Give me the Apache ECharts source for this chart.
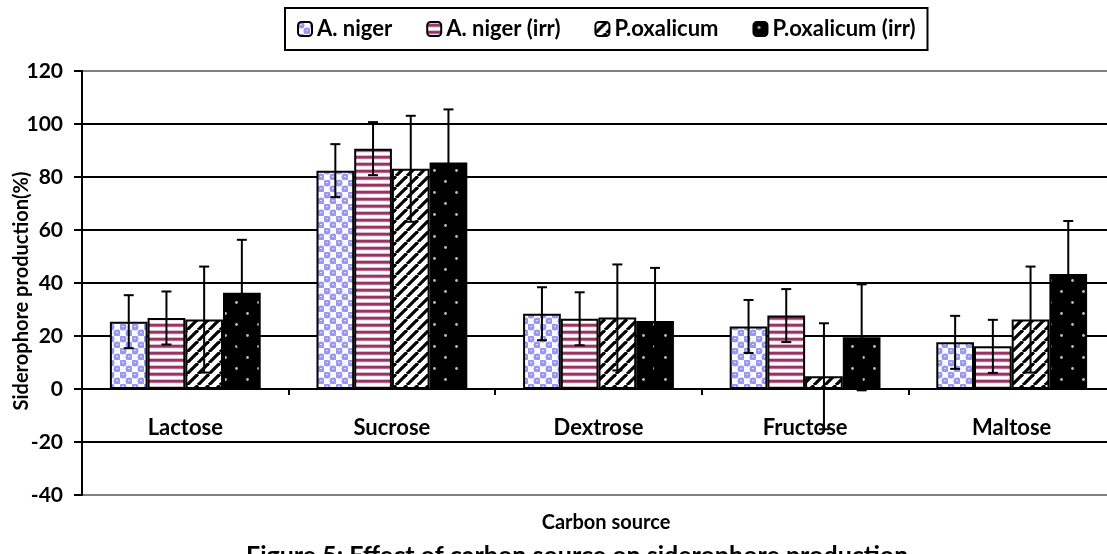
<!DOCTYPE html>
<html>
<head>
<meta charset="utf-8">
<script src="https://cdn.jsdelivr.net/npm/echarts@6/dist/echarts.min.js"></script>
<style>
  html, body { margin: 0; padding: 0; background: #fff; }
  #chart { width: 1107px; height: 554px; }
</style>
</head>
<body>
<div id="chart"></div>
<script>
  // values
  const categories = ['Lactose', 'Sucrose', 'Dextrose', 'Fructose', 'Maltose'];
  const seriesNames = ['A. niger', 'A. niger (irr)', 'P.oxalicum', 'P.oxalicum (irr)'];
  const aniger = [25.4, 82.4, 28.4, 23.6, 17.6];
  const anigerIrr = [26.8, 90.7, 26.5, 27.7, 16.1];
  const poxalicum = [26.2, 83.1, 27.0, 4.8, 26.2];
  const poxalicumIrr = [36.3, 85.5, 25.7, 19.5, 43.4];
  const anigerErr = [10, 10, 10, 10, 10];
  const anigerIrrErr = [10, 10, 10, 10, 10];
  const poxalicumErr = [20, 20, 20, 20, 20];
  const poxalicumIrrErr = [20, 20, 20, 20, 20];
  const yTicks = { min: -40, max: 120, interval: 20 };

  const FONT = 'Lato';
  const GAP = 0.27;
  const GRID = { left: 82, top: 71, width: 1033, height: 424 };

  function tile(w, h, draw) {
    let c = document.createElement('canvas');
    c.width = w;
    c.height = h;
    draw(c.getContext('2d'));
    return { image: c, repeat: 'repeat' };
  }

  // blue "bubbles" pattern
  const bluePattern = tile(12, 12, (ctx) => {
    ctx.fillStyle = '#ffffff';
    ctx.fillRect(0, 0, 12, 12);
    ctx.fillStyle = '#c4c4fb';
    ctx.fillRect(0, 0, 6, 6);
    ctx.fillRect(6, 6, 6, 6);
    ctx.fillStyle = '#9999f5';
    [[3, 3], [9, 9]].forEach(p => {
      ctx.beginPath();
      ctx.arc(p[0], p[1], 3.5, 0, Math.PI * 2);
      ctx.fill();
    });
    ctx.fillStyle = '#dcdcfd';
    ctx.fillRect(2, 2, 2, 1);
    ctx.fillRect(8, 8, 2, 1);
  });

  // maroon horizontal stripes
  const stripePattern = tile(4, 7, (ctx) => {
    const rows = ['#ffffff', '#dcb8c8', '#993366', '#993366', '#b56d8d', '#f3e6ec', '#ffffff'];
    rows.forEach((c, i) => {
      ctx.fillStyle = c;
      ctx.fillRect(0, i, 4, 1);
    });
  });

  // black diagonal lines
  const diagPattern = tile(11, 11, (ctx) => {
    ctx.fillStyle = '#ffffff';
    ctx.fillRect(0, 0, 11, 11);
    ctx.strokeStyle = '#000000';
    ctx.lineWidth = 3.2;
    [-11, 0, 11].forEach(o => {
      ctx.beginPath();
      ctx.moveTo(o, 11);
      ctx.lineTo(o + 11, 0);
      ctx.stroke();
    });
  });

  // black with small dots
  const dotPattern = tile(22, 22, (ctx) => {
    ctx.fillStyle = '#000000';
    ctx.fillRect(0, 0, 22, 22);
    ctx.fillStyle = '#bdbdbd';
    [[5.5, 5.5], [16.5, 16.5]].forEach(p => {
      ctx.beginPath();
      ctx.arc(p[0], p[1], 1.4, 0, Math.PI * 2);
      ctx.fill();
    });
  });

  const patterns = [bluePattern, stripePattern, diagPattern, dotPattern];
  const values = [aniger, anigerIrr, poxalicum, poxalicumIrr];
  const errors = [anigerErr, anigerIrrErr, poxalicumErr, poxalicumIrrErr];

  function errorRender(idx) {
    return function (params, api) {
      let cat = api.value(0);
      let lo = api.coord([cat, api.value(1)]);
      let hi = api.coord([cat, api.value(2)]);
      let band = api.size([1, 0])[0];
      let bw = band * (1 - GAP) / 4;
      let x = hi[0] + (idx - 1.5) * bw;
      let cap = 5;
      let st = { stroke: '#000', lineWidth: 2 };
      return {
        type: 'group',
        children: [
          { type: 'line', shape: { x1: x, y1: lo[1], x2: x, y2: hi[1] }, style: st },
          { type: 'line', shape: { x1: x - cap, y1: hi[1], x2: x + cap, y2: hi[1] }, style: st },
          { type: 'line', shape: { x1: x - cap, y1: lo[1], x2: x + cap, y2: lo[1] }, style: st }
        ]
      };
    };
  }

  let series = [];
  seriesNames.forEach((name, i) => {
    series.push({
      name: name,
      type: 'bar',
      data: values[i],
      barCategoryGap: (GAP * 100) + '%',
      barGap: '0%',
      itemStyle: { color: patterns[i], borderColor: '#000', borderWidth: 2 }
    });
  });
  seriesNames.forEach((name, i) => {
    series.push({
      type: 'custom',
      renderItem: errorRender(i),
      data: values[i].map((v, k) => [k, v - errors[i][k], v + errors[i][k]]),
      encode: { x: 0, y: [1, 2] },
      z: 10,
      silent: true
    });
  });

  // move the category axis up to the zero line
  const zeroOffset = -GRID.height * (0 - yTicks.min) / (yTicks.max - yTicks.min);

  let chart = echarts.init(document.getElementById('chart'));
  chart.setOption({
    animation: false,
    backgroundColor: '#fff',
    legend: {
      data: seriesNames,
      left: 285,
      top: 8,
      padding: [10, 12],
      itemGap: 34,
      itemWidth: 14,
      itemHeight: 14,
      borderColor: '#000',
      borderWidth: 2,
      textStyle: { fontFamily: FONT, fontWeight: 'bold', fontSize: 22, color: '#000' }
    },
    grid: Object.assign({ outerBoundsMode: 'none', containLabel: false }, GRID),
    xAxis: {
      type: 'category',
      data: categories,
      offset: zeroOffset,
      axisLine: { onZero: false, lineStyle: { color: '#000', width: 2 } },
      axisTick: { show: true, length: 6, lineStyle: { color: '#000', width: 2 } },
      axisLabel: { margin: 28, fontFamily: FONT, fontWeight: 'bold', fontSize: 22, color: '#000' }
    },
    yAxis: {
      type: 'value',
      min: yTicks.min,
      max: yTicks.max,
      interval: yTicks.interval,
      name: 'Siderophore production(%)',
      nameLocation: 'middle',
      nameRotate: 90,
      nameGap: 50,
      nameMoveOverlap: false,
      nameTextStyle: { fontFamily: FONT, fontWeight: 'bold', fontSize: 20, color: '#000', padding: [0, 16, 0, 0] },
      axisLine: { show: true, lineStyle: { color: '#000', width: 2 } },
      axisTick: { show: true, length: 8, lineStyle: { color: '#000', width: 2 } },
      axisLabel: { margin: 19, fontFamily: FONT, fontWeight: 'bold', fontSize: 21, color: '#000' },
      splitLine: {
        lineStyle: {
          color: ['#808080', '#000', '#000', '#000', '#000', '#000', '#000', '#000', '#808080'],
          width: 2
        }
      }
    },
    graphic: [
      {
        type: 'text',
        left: 246,
        top: 543,
        z: 1,
        style: {
          text: 'Figure 5: Effect of carbon source on siderophore production',
          fontFamily: FONT, fontWeight: 'bold', fontSize: 25, fill: '#000'
        }
      },
      {
        type: 'text',
        x: 606,
        y: 523,
        z: 2,
        style: {
          text: 'Carbon source',
          align: 'center',
          verticalAlign: 'middle',
          fontFamily: FONT, fontWeight: 'bold', fontSize: 20, fill: '#000',
          backgroundColor: '#fff',
          padding: [0, 6]
        }
      }
    ],
    series: series
  });
</script>
</body>
</html>
